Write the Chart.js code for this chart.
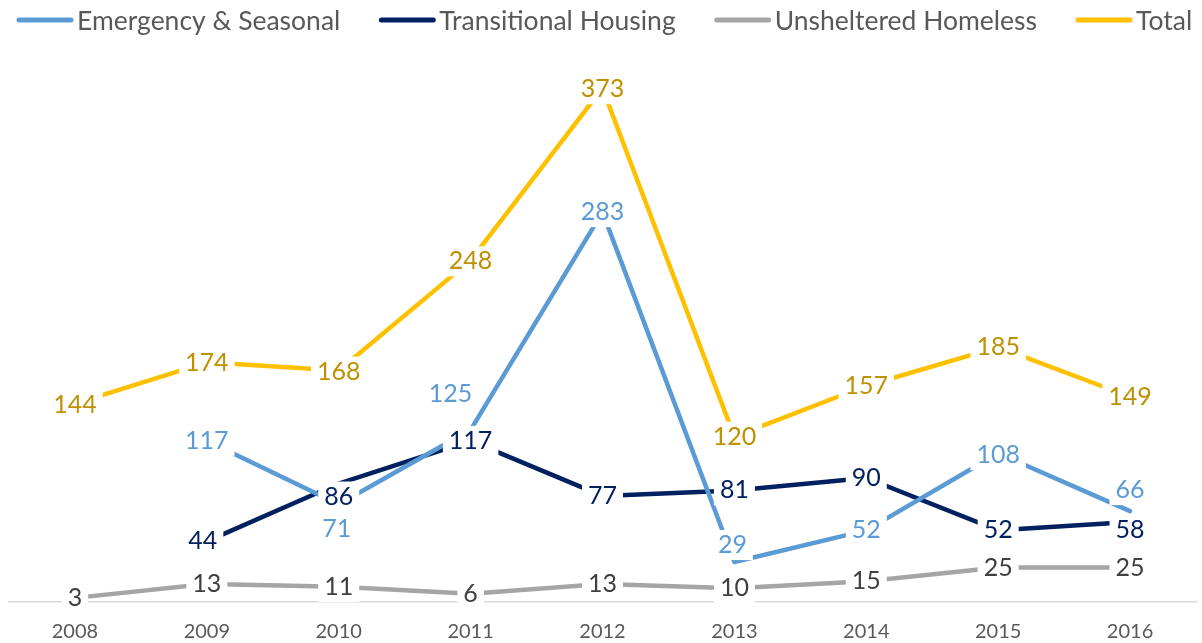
<!DOCTYPE html>
<html>
<head>
<meta charset="utf-8">
<script src="https://cdn.jsdelivr.net/npm/chart.js@4.4.1/dist/chart.umd.min.js"></script>
<style>
  html, body { margin: 0; padding: 0; background: #ffffff; }
  #wrap { width: 1202px; height: 643px; position: relative; }
</style>
</head>
<body>
<div id="wrap"><canvas id="c" width="1202" height="643"></canvas></div>
<script>
// Homeless count by year and shelter type
const years = ['2008', '2009', '2010', '2011', '2012', '2013', '2014', '2015', '2016'];
const emergencySeasonal = [null, 117, 71, 125, 283, 29, 52, 108, 66];
const transitionalHousing = [null, 44, 86, 117, 77, 81, 90, 52, 58];
const unshelteredHomeless = [3, 13, 11, 6, 13, 10, 15, 25, 25];
const totalCount = [144, 174, 168, 248, 373, 120, 157, 185, 149];

const FONT = 'Lato, "Noto Sans", sans-serif';

// Nudges (dx, dy in px) that keep crowded value labels apart
const labelNudge = [
  [[0,0],[0,0],[-2,25],[-20,-36],[0,0],[-2,-17],[0,0],[0,2],[0,-21]],
  [[0,0],[-4,0],[0,13],[0,0],[0,0],[0,0],[0,0],[0,0],[0,8]],
  [[0,0],[0,0],[0,0],[0,0],[0,0],[0,0],[0,0],[0,0],[0,0]],
  [[0,1],[0,1],[0,1],[0,1],[0,1],[0,0],[0,0],[0,0],[0,0]]
];

// Value labels on white boxes, drawn above every line
const valueLabels = {
  id: 'valueLabels',
  afterDatasetsDraw(chart) {
    const ctx = chart.ctx;
    ctx.save();
    ctx.font = '25px ' + FONT;
    ctx.textAlign = 'center';
    ctx.textBaseline = 'middle';
    chart.data.datasets.forEach((ds, i) => {
      const meta = chart.getDatasetMeta(i);
      meta.data.forEach((pt, j) => {
        const v = ds.data[j];
        if (v === null || v === undefined) return;
        const n = labelNudge[i][j];
        const x = pt.x + n[0];
        const y = pt.y + n[1];
        const txt = String(v);
        const w = ctx.measureText(txt).width;
        ctx.fillStyle = '#ffffff';
        ctx.fillRect(x - w / 2 - 6, y - 15, w + 12, 30);
        ctx.fillStyle = ds.labelColor;
        ctx.fillText(txt, x, y);
      });
    });
    ctx.restore();
  }
};

// Legend row across the top
const topLegend = {
  id: 'topLegend',
  afterDraw(chart) {
    const ctx = chart.ctx;
    ctx.save();
    ctx.font = '26.5px ' + FONT;
    ctx.textBaseline = 'middle';
    ctx.textAlign = 'left';
    let x = 17;
    const y = 20;
    chart.data.datasets.forEach((ds) => {
      ctx.strokeStyle = ds.borderColor;
      ctx.lineWidth = 5;
      ctx.lineCap = 'round';
      ctx.beginPath();
      ctx.moveTo(x + 2, y);
      ctx.lineTo(x + 54, y);
      ctx.stroke();
      x += 60;
      ctx.fillStyle = '#595959';
      ctx.fillText(ds.label, x, y + 1);
      x += ctx.measureText(ds.label).width + 39;
    });
    ctx.restore();
  }
};

const mk = (label, data, color, labelColor) => ({
  label, data,
  borderColor: color,
  backgroundColor: color,
  labelColor,
  borderWidth: 4.5,
  borderCapStyle: 'round',
  borderJoinStyle: 'round',
  pointRadius: 0,
  pointHoverRadius: 0,
  tension: 0,
  spanGaps: false
});

new Chart(document.getElementById('c'), {
  type: 'line',
  data: {
    labels: years,
    datasets: [
      mk('Emergency & Seasonal', emergencySeasonal, '#5B9BD5', '#5B9BD5'),
      mk('Transitional Housing', transitionalHousing, '#002060', '#002060'),
      mk('Unsheltered Homeless', unshelteredHomeless, '#A5A5A5', '#404040'),
      mk('Total', totalCount, '#FFC000', '#BF9000')
    ]
  },
  options: {
    responsive: false,
    animation: false,
    layout: { padding: { top: 51, left: 9, right: 6, bottom: -19 } },
    plugins: {
      legend: { display: false },
      tooltip: { enabled: false }
    },
    scales: {
      x: {
        offset: true,
        grid: { display: false, drawTicks: false },
        border: { display: true, color: '#D9D9D9', width: 1.5 },
        ticks: { color: '#595959', font: { family: FONT, size: 20 }, padding: 18, maxRotation: 0 }
      },
      y: {
        display: false,
        min: 0,
        max: 400
      }
    }
  },
  plugins: [valueLabels, topLegend]
});
</script>
</body>
</html>
